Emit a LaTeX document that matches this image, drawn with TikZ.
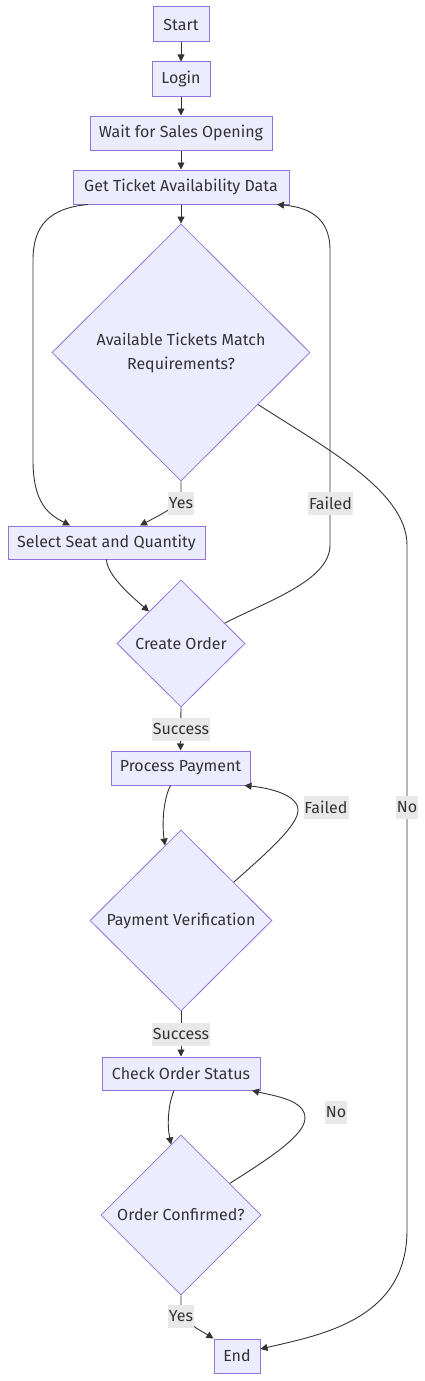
\documentclass[tikz,border=0pt]{standalone}
\usepackage{fontspec}
\setmainfont{Fira Sans}
\usetikzlibrary{shapes.geometric,arrows.meta}
\definecolor{nodefill}{HTML}{ECECFF}
\definecolor{nodeline}{HTML}{9370DB}
\definecolor{ink}{HTML}{333333}
\definecolor{lblfill}{HTML}{E8E8E8}
\newcommand{\lblfont}{\fontsize{16}{19}\selectfont}
\begin{document}
\begin{tikzpicture}[x=1pt,y=-1pt,
  box/.style={draw=nodeline, fill=nodefill, line width=1pt, text=ink, font=\lblfont, inner sep=0pt, minimum height=34pt},
  dia/.style={diamond, draw=nodeline, fill=nodefill, line width=0.8pt, text=ink, font=\lblfont, inner sep=0pt, align=center},
  conn/.style={draw=ink, line width=0.9pt, -{Triangle[length=7pt,width=7pt]}},
  lbl/.style={fill=lblfill, text=ink, font=\lblfont, inner xsep=1pt, inner ysep=0pt, minimum height=23pt}]
\useasboundingbox (0,0) rectangle (424,1381);
% boxes
\node[box, minimum width=56pt, minimum height=35pt] (start) at (181,24.5) {Start};
\node[box, minimum width=58pt] (login) at (181,79) {Login};
\node[box, minimum width=182pt] (wait) at (181,133) {Wait for Sales Opening};
\node[box, minimum width=216pt] (get) at (181,187) {Get Ticket Availability Data};
\node[dia, minimum width=258pt, minimum height=257pt, font=\fontsize{16}{24}\selectfont] (d1) at (181,352.5) {Available Tickets Match\\Requirements?};
\node[box, minimum width=197pt, minimum height=33pt] (sel) at (106.5,542.5) {Select Seat and Quantity};
\node[dia, minimum width=128pt, minimum height=127pt] (co) at (181,643.5) {Create Order};
\node[box, minimum width=139pt] (pp) at (180.5,768) {Process Payment};
\node[dia, minimum width=182pt, minimum height=181pt] (pv) at (181,920.5) {Payment Verification};
\node[box, minimum width=158pt, minimum height=33pt] (cos) at (181,1073.5) {Check Order Status};
\node[dia, minimum width=160pt, minimum height=160pt] (oc) at (181,1215) {Order Confirmed?};
\node[box, minimum width=46pt] (end) at (237,1356) {End};
% connectors
\draw[conn] (start) -- (login);
\draw[conn] (login) -- (wait);
\draw[conn] (wait) -- (get);
\draw[conn] (get) -- (d1);
\draw[conn] ([xshift=-93pt]get.south) .. controls (50,208) and (33,225) .. (33,260) -- (33,460) .. controls (33,505) and (50,515) .. ([xshift=-36.5pt]sel.north);
\draw[conn] (d1.south) -- (181,495) .. controls (181,505) and (160,515) .. ([xshift=33.5pt]sel.north);
\draw[conn] (co.25) .. controls (270,600) and (330,580) .. (330,545) -- (330,250) .. controls (330,215) and (305,207) .. ([xshift=96pt]get.south);
\draw[conn] (d1.-34) .. controls (320,445) and (407,490) .. (407,545) -- (407,1230) .. controls (407,1320) and (320,1335) .. ([yshift=7pt]end.east);
\draw[conn] (sel.south) .. controls (107,575) and (130,595) .. (co.135);
\draw[conn] (co.south) -- (pp.north);
\draw[conn] ([xshift=-10pt]pp.south) .. controls (163,800) and (162,825) .. (pv.102);
\draw[conn] (pv.36) .. controls (270,850) and (298,825) .. (298,810) .. controls (298,795) and (270,788) .. ([xshift=64pt]pp.south);
\draw[conn] (pv.south) -- (cos.north);
\draw[conn] ([xshift=-7pt]cos.south) .. controls (168,1105) and (167,1125) .. (oc.98);
\draw[conn] (oc.33) .. controls (270,1158) and (305,1135) .. (305,1118) .. controls (305,1100) and (275,1096) .. ([xshift=71pt]cos.south);
\draw[conn] (oc.south) -- (181,1305) .. controls (181,1322) and (200,1330) .. (end.north west);
% labels
\node[lbl] (l1) at (181,503.5) {Yes};
\node[lbl] (l2) at (330.5,503.5) {Failed};
\node[lbl] (l3) at (181,729) {Success};
\node[lbl] (l4) at (326,807) {Failed};
\node[lbl] (l5) at (407,807) {No};
\node[lbl] (l6) at (181,1034) {Success};
\node[lbl] (l7) at (336,1112) {No};
\node[lbl] (l8) at (181,1316) {Yes};
\end{tikzpicture}
\end{document}
